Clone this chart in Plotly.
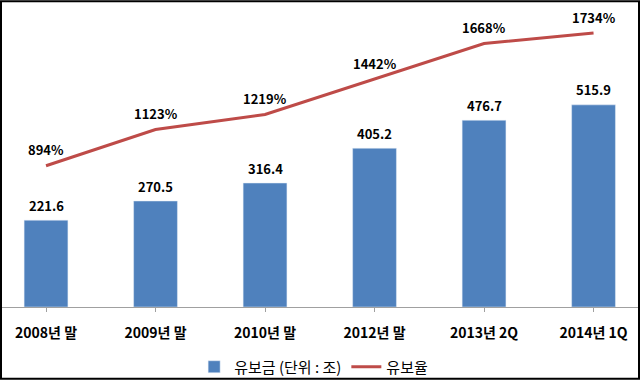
import plotly.graph_objects as go

categories = ["2008년 말", "2009년 말", "2010년 말", "2012년 말", "2013년 2Q", "2014년 1Q"]
reserves = [221.6, 270.5, 316.4, 405.2, 476.7, 515.9]
reserve_ratio = [894, 1123, 1219, 1442, 1668, 1734]
bar_name = "유보금 (단위 : 조)"
line_name = "유보율"

FONT = "Noto Sans CJK KR"
BLUE = "#4F81BD"
RED = "#BE4B48"

idx = list(range(len(categories)))

fig = go.Figure()
fig.add_trace(go.Bar(x=idx, y=reserves, name=bar_name, marker_color=BLUE,
                     width=0.4, yaxis="y"))
fig.add_trace(go.Scatter(x=idx, y=reserve_ratio, name=line_name, mode="lines",
                         line=dict(color=RED, width=3), yaxis="y2"))

annotations = []
for i, v in zip(idx, reserves):
    annotations.append(dict(x=i, y=v, xref="x", yref="y", text=f"<b>{v:.1f}</b>",
                            showarrow=False, yshift=15,
                            font=dict(family=FONT, size=13, color="#000")))
for i, v in zip(idx, reserve_ratio):
    annotations.append(dict(x=i, y=v, xref="x", yref="y2", text=f"<b>{v}%</b>",
                            showarrow=False, yshift=16,
                            font=dict(family=FONT, size=13, color="#000")))

fig.update_layout(
    width=640, height=386,
    margin=dict(l=2, r=2, t=10, b=74),
    paper_bgcolor="white", plot_bgcolor="white",
    font=dict(family=FONT, color="#000"),
    xaxis=dict(range=[-0.402, 5.406], tickmode="array", tickvals=idx,
               ticktext=[f"<b>{c}</b>" for c in categories],
               tickfont=dict(family=FONT, size=14, color="#000"),
               showline=True, linecolor="#A0A0A0", linewidth=1,
               ticks="outside", tickson="boundaries", ticklen=4, tickcolor="#A0A0A0",
               ticklabelstandoff=9, showgrid=False, zeroline=False, fixedrange=True),
    yaxis=dict(range=[0, 758], visible=False, showgrid=False, zeroline=False),
    yaxis2=dict(range=[0, 1880], overlaying="y", visible=False, showgrid=False,
                zeroline=False),
    legend=dict(orientation="h", x=0.49, xanchor="center", y=-0.202, yanchor="middle",
                font=dict(family=FONT, size=15, color="#000"), itemwidth=30,
                bgcolor="rgba(0,0,0,0)"),
    annotations=annotations,
    shapes=[dict(type="rect", xref="paper", yref="paper",
                 x0=-1/636, x1=1 + 1/636, y0=-73/302, y1=1 + 9/302,
                 line=dict(color="#000", width=2), fillcolor="rgba(0,0,0,0)")],
    showlegend=True,
)

fig.write_html("out.html", config={"displayModeBar": False},
               post_script="document.body.style.margin='0';document.body.style.overflow='hidden';")
